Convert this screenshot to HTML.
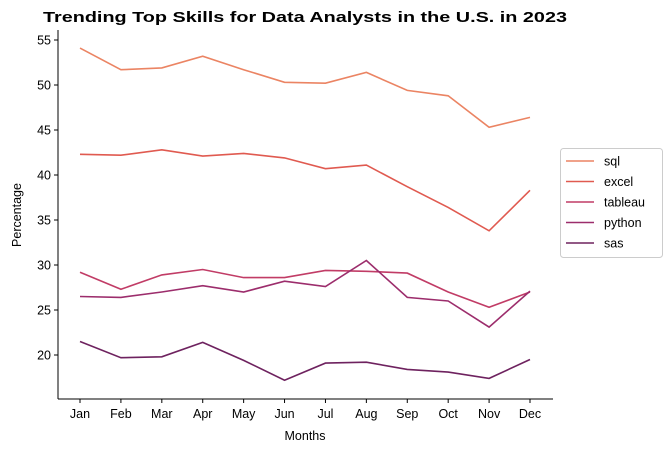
<!DOCTYPE html>
<html><head><meta charset="utf-8"><style>
body{margin:0;background:#fff;font-family:"Liberation Sans","DejaVu Sans",sans-serif}
svg text{font-family:"Liberation Sans","DejaVu Sans",sans-serif;fill:#000}
</style></head><body>
<svg id="c" width="672" height="453"></svg>
<script>
const months=["Jan","Feb","Mar","Apr","May","Jun","Jul","Aug","Sep","Oct","Nov","Dec"];
const seriesNames=["sql","excel","tableau","python","sas"];
const sql=[54.1,51.7,51.9,53.2,51.7,50.3,50.2,51.4,49.4,48.8,45.3,46.4];
const excel=[42.3,42.2,42.8,42.1,42.4,41.9,40.7,41.1,38.7,36.4,33.8,38.3];
const tableau=[29.2,27.3,28.9,29.5,28.6,28.6,29.4,29.3,29.1,27.0,25.3,27.0];
const python=[26.5,26.4,27.0,27.7,27.0,28.2,27.6,30.5,26.4,26.0,23.1,27.1];
const sas=[21.5,19.7,19.8,21.4,19.4,17.2,19.1,19.2,18.4,18.1,17.4,19.5];
const yTicks=[20,25,30,35,40,45,50,55];
const colors=["#eb8463","#e05a50","#c13c66","#9c2d6c","#6e225f"];
const NS="http://www.w3.org/2000/svg",svg=document.getElementById('c');
function mk(t,a,p){const e=document.createElementNS(NS,t);for(const k in a)e.setAttribute(k,a[k]);(p||svg).appendChild(e);return e;}
const L=58,R=553,T=30,B=399;
const xs=i=>80+i*(530-80)/11;
const ys=v=>40+(55-v)*9;
let e;
e=mk('text',{x:43,y:22,'font-size':15,'font-weight':'bold',textLength:524,lengthAdjust:'spacingAndGlyphs'});e.textContent="Trending Top Skills for Data Analysts in the U.S. in 2023";

yTicks.forEach(v=>{const y=ys(v);mk('line',{x1:L-4,x2:L,y1:y,y2:y,stroke:'#000'});
 e=mk('text',{x:L-7,y:y+4.5,'text-anchor':'end','font-size':12.5});e.textContent=v;
 });
months.forEach((m,i)=>{const x=xs(i);mk('line',{x1:x,x2:x,y1:B,y2:B+4,stroke:'#000'});
 e=mk('text',{x:x,y:B+19,'text-anchor':'middle','font-size':12.5});e.textContent=m;
 });
e=mk('text',{x:305,y:440,'text-anchor':'middle','font-size':12.5});e.textContent="Months";

e=mk('text',{x:21,y:215,'text-anchor':'middle','font-size':12.5,transform:'rotate(-90 21 215)'});e.textContent="Percentage";

[sql,excel,tableau,python,sas].forEach((s,k)=>{
 e=mk('polyline',{points:s.map((v,i)=>xs(i)+','+ys(v)).join(' '),fill:'none',stroke:colors[k],'stroke-width':1.6});
 });
mk('line',{x1:L,x2:L,y1:T,y2:B,stroke:'#000'});
mk('line',{x1:L,x2:R,y1:B,y2:B,stroke:'#000'});
const lg=mk('g',{});
mk('rect',{x:560.5,y:148.5,width:102,height:109,rx:3,fill:'#fff',stroke:'#ccc'},lg);
seriesNames.forEach((n,k)=>{const y=161+k*20.5;
 mk('line',{x1:566,x2:594,y1:y,y2:y,stroke:colors[k],'stroke-width':1.6},lg);
 e=mk('text',{x:604,y:y+4.5,'font-size':12.5},lg);e.textContent=n;
 });
</script>
</body></html>
